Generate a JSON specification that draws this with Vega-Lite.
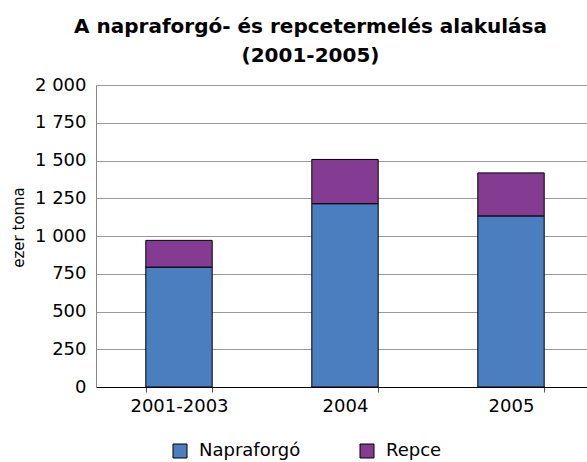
{
  "$schema": "https://vega.github.io/schema/vega-lite/v6.json",
  "width": 491,
  "height": 302,
  "autosize": {"type": "none"},
  "padding": {"left": 96, "top": 85, "right": 0, "bottom": 75},
  "background": "white",
  "title": {
    "text": ["A napraforgó- és repcetermelés alakulása", "(2001-2005)"],
    "font": "DejaVu Sans",
    "fontSize": 20,
    "fontWeight": "bold",
    "color": "black",
    "anchor": "middle",
    "dx": -31,
    "offset": 10,
    "lineHeight": 29
  },
  "data": {
    "values": [
      {"period": "2001-2003", "crop": "Napraforgó", "value": 794},
      {"period": "2001-2003", "crop": "Repce", "value": 177},
      {"period": "2004", "crop": "Napraforgó", "value": 1214},
      {"period": "2004", "crop": "Repce", "value": 293},
      {"period": "2005", "crop": "Napraforgó", "value": 1133},
      {"period": "2005", "crop": "Repce", "value": 285}
    ]
  },
  "mark": {"type": "bar", "stroke": "black", "strokeWidth": 1, "clip": false},
  "encoding": {
    "x": {
      "field": "period",
      "type": "nominal",
      "sort": ["2001-2003", "2004", "2005"],
      "scale": {"range": [0, 498], "paddingInner": 0.6, "paddingOuter": 0.3},
      "axis": {
        "title": null,
        "labelAngle": 0,
        "labelFont": "DejaVu Sans",
        "labelFontSize": 18,
        "labelColor": "black",
        "labelPadding": 5,
        "domainColor": "black",
        "domainWidth": 1,
        "tickColor": "#555",
        "tickBand": "extent",
        "tickSize": 5,
        "grid": false
      }
    },
    "y": {
      "field": "value",
      "type": "quantitative",
      "stack": "zero",
      "scale": {"domain": [0, 2000], "nice": false},
      "axis": {
        "title": "ezer tonna",
        "titleFont": "DejaVu Sans",
        "titleFontSize": 15,
        "titleFontWeight": "normal",
        "titleColor": "black",
        "titlePadding": 8,
        "titleY": 142,
        "values": [0, 250, 500, 750, 1000, 1250, 1500, 1750, 2000],
        "labelExpr": "replace(format(datum.value, ','), ',', ' ')",
        "labelFont": "DejaVu Sans",
        "labelFontSize": 18,
        "labelColor": "black",
        "labelPadding": 10,
        "ticks": false,
        "domain": true,
        "domainColor": "#888",
        "grid": true,
        "gridColor": "#999",
        "gridWidth": 1
      }
    },
    "order": {"field": "crop", "sort": "ascending"},
    "color": {
      "field": "crop",
      "type": "nominal",
      "scale": {"domain": ["Napraforgó", "Repce"], "range": ["#4a7ebf", "#833c91"]},
      "legend": {
        "title": null,
        "orient": "none",
        "direction": "horizontal",
        "legendX": 75,
        "legendY": 357,
        "symbolType": "square",
        "symbolSize": 196,
        "symbolStrokeColor": "black",
        "symbolStrokeWidth": 1,
        "labelFont": "DejaVu Sans",
        "labelFontSize": 18,
        "labelColor": "black",
        "labelOffset": 10,
        "columnPadding": 57
      }
    }
  },
  "config": {"view": {"stroke": null}}
}
